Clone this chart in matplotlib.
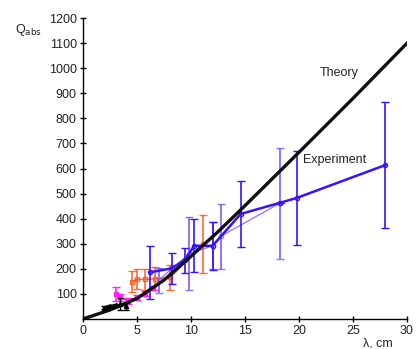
import numpy as np
import matplotlib
matplotlib.use("Agg")
import matplotlib.pyplot as plt

plt.rcParams['font.family'] = ['Liberation Sans', 'DejaVu Sans']

# theory curve
lam_theory = [0, 2.5, 5, 7.5, 10, 12.5, 15, 20, 25, 30]
q_theory = [0, 36, 82, 155, 250, 348, 452, 665, 880, 1100]

# dark blue experiment (thick line)
lam_blue = [6.2, 8.2, 9.4, 10.3, 12.0, 14.6, 18.2, 19.8, 28.0]
q_blue = [186, 202, 235, 292, 292, 419, 463, 483, 614]
err_blue = [107, 62, 50, 105, 95, 132, 0, 188, 250]

# lighter blue experiment (thin line)
lam_blue2 = [7.0, 9.85, 12.0, 12.75, 18.2]
q_blue2 = [155, 260, 292, 330, 461]
err_blue2 = [50, 145, 93, 130, 220]

# orange experiment
lam_orange = [4.5, 5.0, 5.7, 6.7, 8.1, 11.1]
q_orange = [148, 158, 158, 160, 166, 300]
err_orange = [42, 40, 42, 46, 50, 115]

# magenta experiment
lam_mag = [3.05, 3.45, 4.2, 5.0, 5.7, 6.5]
q_mag = [100, 86, 72, 85, 100, 125]
err_mag = [29, 14, 12, 10, 10, 8]

# black experiment
lam_blk = [1.9, 2.2, 2.5, 2.8, 3.1, 3.4, 4.0]
q_blk = [45, 48, 50, 52, 55, 58, 50]
err_blk = [5, 5, 5, 5, 5, 24, 14]

fig = plt.figure(figsize=(4.17, 3.49), dpi=100)
ax = fig.add_axes([0.199, 0.086, 0.777, 0.862])

ax.plot(lam_theory, q_theory, color='#111111', lw=2.4, zorder=5)

ax.errorbar(lam_blk, q_blk, yerr=err_blk, color='black', lw=1, marker='^', ms=3,
            capsize=2, elinewidth=1, zorder=6)
ax.errorbar(lam_mag, q_mag, yerr=err_mag, color='#ff22ff', lw=1.5, marker='s', ms=3,
            capsize=3, elinewidth=1.2, zorder=4)
ax.errorbar(lam_orange, q_orange, yerr=err_orange, color='#ff5a1e', lw=1.2, marker='s', ms=3.5,
            mfc='none', capsize=3, elinewidth=1.2, alpha=0.9, zorder=3)
ax.errorbar(lam_blue2, q_blue2, yerr=err_blue2, color='#7b5cff', lw=0.9, marker='o', ms=3,
            mfc='none', capsize=3, elinewidth=1.4, alpha=0.85, zorder=3)
ax.errorbar(lam_blue, q_blue, yerr=err_blue, color='#3a10ff', lw=1.8, marker='o', ms=3,
            mfc='none', capsize=3, elinewidth=1.2, zorder=4)

ax.set_xlim(0, 30)
ax.set_ylim(0, 1200)
ax.set_xticks([0, 5, 10, 15, 20, 25, 30])
ax.set_yticks(range(100, 1201, 100))
ax.tick_params(direction='inout', length=5, width=1, labelsize=9, pad=2,
               labelcolor='#222222')
for side in ['top', 'right']:
    ax.spines[side].set_visible(False)
for side in ['left', 'bottom']:
    ax.spines[side].set_linewidth(1)

ax.text(21.95, 980, 'Theory', fontsize=9, color='#222222', va='center')
ax.text(20.4, 634, 'Experiment', fontsize=9, color='#222222', va='center')
fig.text(0.036, 0.915, r'Q$_{\mathrm{abs}}$', fontsize=9, color='#222222', va='center')
fig.text(0.87, 0.017, 'λ, cm', fontsize=9, color='#222222', va='center')

fig.savefig('out.png', dpi=100)
